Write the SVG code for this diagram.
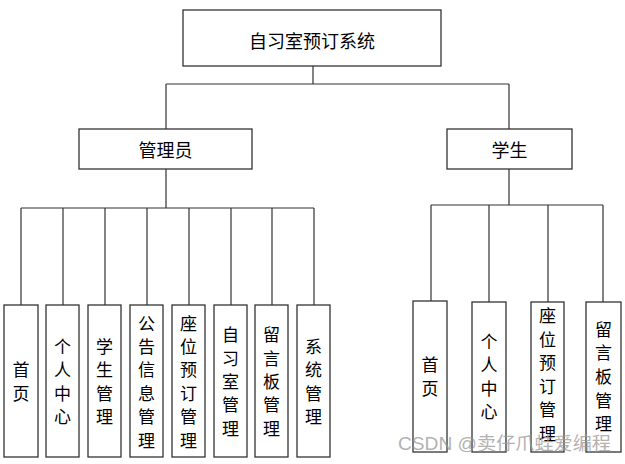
<svg xmlns="http://www.w3.org/2000/svg" width="625" height="464" viewBox="0 0 625 464">
<style>
.box{fill:#fff;stroke:#333;stroke-width:1.3}
.ln{fill:none;stroke:#333;stroke-width:1.2}
.t{font-family:"Noto Sans CJK SC","Liberation Sans",sans-serif;fill:#000;text-anchor:middle;dominant-baseline:central}
.big{font-size:18px}
.leaf{font-size:17px}
.wm{font-family:"Liberation Sans","Noto Sans CJK SC",sans-serif;font-size:18px;fill:#999;opacity:0.75}
</style>
<rect width="625" height="464" fill="#fff"/>
<g id="connectors">
<path class="ln" d="M313,66V84M166,84H509M166,84V129M509,84V129"/>
<path class="ln" d="M166,169V208M21,208H314M21,208V305M63,208V305M105,208V305M147,208V305M189,208V305M231,208V305M272,208V305M314,208V305"/>
<path class="ln" d="M509,169V205M431,205H603M431,205V301M489,205V302M548,205V302M603,205V302"/>
</g>
<g id="root"><rect class="box" x="183" y="10" width="258" height="56"/><text class="t big" x="312" y="40">自习室预订系统</text></g>
<g id="admin"><rect class="box" x="79" y="129" width="173" height="40"/><text class="t big" x="165.5" y="149">管理员</text></g>
<g id="student"><rect class="box" x="447" y="129" width="125" height="40"/><text class="t big" x="509.5" y="149">学生</text></g>
<g id="a1"><rect class="box" x="4" y="305" width="34" height="152"/><text class="t leaf"><tspan x="21" y="368.3">首</tspan><tspan x="21" dy="23.4">页</tspan></text></g>
<g id="a2"><rect class="box" x="46" y="305" width="33" height="152"/><text class="t leaf"><tspan x="62.5" y="344.9">个</tspan><tspan x="62.5" dy="23.4">人</tspan><tspan x="62.5" dy="23.4">中</tspan><tspan x="62.5" dy="23.4">心</tspan></text></g>
<g id="a3"><rect class="box" x="88" y="305" width="33" height="152"/><text class="t leaf"><tspan x="104.5" y="344.9">学</tspan><tspan x="104.5" dy="23.4">生</tspan><tspan x="104.5" dy="23.4">管</tspan><tspan x="104.5" dy="23.4">理</tspan></text></g>
<g id="a4"><rect class="box" x="130" y="305" width="33" height="152"/><text class="t leaf"><tspan x="146.5" y="321.5">公</tspan><tspan x="146.5" dy="23.4">告</tspan><tspan x="146.5" dy="23.4">信</tspan><tspan x="146.5" dy="23.4">息</tspan><tspan x="146.5" dy="23.4">管</tspan><tspan x="146.5" dy="23.4">理</tspan></text></g>
<g id="a5"><rect class="box" x="172" y="305" width="33" height="152"/><text class="t leaf"><tspan x="188.5" y="321.5">座</tspan><tspan x="188.5" dy="23.4">位</tspan><tspan x="188.5" dy="23.4">预</tspan><tspan x="188.5" dy="23.4">订</tspan><tspan x="188.5" dy="23.4">管</tspan><tspan x="188.5" dy="23.4">理</tspan></text></g>
<g id="a6"><rect class="box" x="214" y="305" width="33" height="152"/><text class="t leaf"><tspan x="230.5" y="333.2">自</tspan><tspan x="230.5" dy="23.4">习</tspan><tspan x="230.5" dy="23.4">室</tspan><tspan x="230.5" dy="23.4">管</tspan><tspan x="230.5" dy="23.4">理</tspan></text></g>
<g id="a7"><rect class="box" x="255" y="305" width="33" height="152"/><text class="t leaf"><tspan x="271.5" y="333.2">留</tspan><tspan x="271.5" dy="23.4">言</tspan><tspan x="271.5" dy="23.4">板</tspan><tspan x="271.5" dy="23.4">管</tspan><tspan x="271.5" dy="23.4">理</tspan></text></g>
<g id="a8"><rect class="box" x="297" y="305" width="33" height="152"/><text class="t leaf"><tspan x="313.5" y="344.9">系</tspan><tspan x="313.5" dy="23.4">统</tspan><tspan x="313.5" dy="23.4">管</tspan><tspan x="313.5" dy="23.4">理</tspan></text></g>
<g id="s1"><rect class="box" x="413" y="301" width="34" height="151"/><text class="t leaf"><tspan x="430" y="363.3">首</tspan><tspan x="430" dy="23.4">页</tspan></text></g>
<g id="s2"><rect class="box" x="472" y="302" width="34" height="150"/><text class="t leaf"><tspan x="489" y="339.9">个</tspan><tspan x="489" dy="23.4">人</tspan><tspan x="489" dy="23.4">中</tspan><tspan x="489" dy="23.4">心</tspan></text></g>
<g id="s3"><rect class="box" x="531" y="302" width="33" height="150"/><text class="t leaf"><tspan x="547.5" y="314">座</tspan><tspan x="547.5" dy="23.6">位</tspan><tspan x="547.5" dy="23.6">预</tspan><tspan x="547.5" dy="23.6">订</tspan><tspan x="547.5" dy="23.6">管</tspan><tspan x="547.5" dy="23.6">理</tspan></text></g>
<g id="s4"><rect class="box" x="586" y="302" width="35" height="150"/><text class="t leaf"><tspan x="603.5" y="327.8">留</tspan><tspan x="603.5" dy="23.6">言</tspan><tspan x="603.5" dy="23.6">板</tspan><tspan x="603.5" dy="23.6">管</tspan><tspan x="603.5" dy="23.6">理</tspan></text></g>
<text class="wm" x="398" y="450" textLength="213" lengthAdjust="spacingAndGlyphs">CSDN @卖仔爪蛙爱编程</text>
</svg>
